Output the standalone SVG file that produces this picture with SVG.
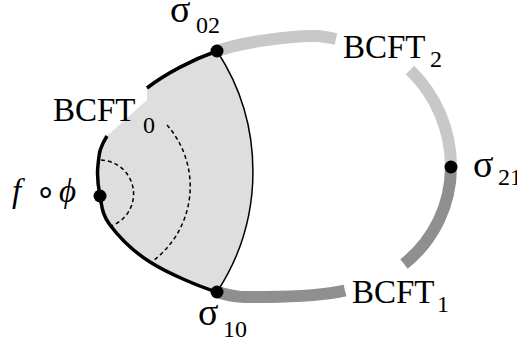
<svg xmlns="http://www.w3.org/2000/svg" width="517" height="343" viewBox="0 0 517 343">
<style>
text{font-family:'Liberation Serif','Times New Roman',serif;fill:#000}
.ring{fill:none;stroke-width:12}
.light{stroke:#c8c8c8}
.dark{stroke:#8f8f8f}
.bound{fill:none;stroke:#000;stroke-width:3.5}
.thin{fill:none;stroke:#000;stroke-width:1.5}
.dash{fill:none;stroke:#000;stroke-width:1.5;stroke-dasharray:4 3}
.dot{fill:#000}
</style>
<rect width="517" height="343" fill="#fff"/>
<g id="region">
<path fill="#dedede" d="M217,51 A220,220 0 0 1 217,292 C197.8,286.2 167.8,273.2 150,262 C132.2,250.8 118.3,236 110,225 C101.7,214 102,206 100,196 C98,186 96.8,175 98,165 C99.2,155 98.8,148.8 107,136 L147,100 L147,88 C165.3,73.8 192.7,59.5 217,51 Z"/>
<path class="thin" d="M217,51 A220,220 0 0 1 217,292"/>
<path class="dash" d="M101,160 A34,34 0 0 1 111,226"/>
<path class="dash" d="M167,125 A93,93 0 0 1 150,263"/>
</g>
<g id="connectors">
<path class="ring light" d="M217,51 C241.3,42.5 272.8,38.8 293,37 C313.2,35.2 320,35.5 336,39"/>
<path class="ring light" d="M410,70 A135,135 0 0 1 451,167"/>
<path class="ring dark" d="M451,167 A124,124 0 0 1 404,264"/>
<path class="ring dark" d="M345,290.5 C319.8,296.5 286,296.8 265,297 C244,297.2 236.2,297.8 217,292"/>
<path class="bound" d="M217,292 C197.8,286.2 167.8,273.2 150,262 C132.2,250.8 118.3,236 110,225 C101.7,214 102,206 100,196 C98,186 96.8,175 98,165 C99.2,155 98.8,148.8 107,136"/>
<path class="bound" d="M147,88 C165.3,73.8 192.7,59.5 217,51"/>
</g>
<g id="sigma02">
<circle class="dot" cx="217" cy="51" r="6.5"/>
<text x="170" y="22" font-size="38">σ</text>
<text x="196" y="33" font-size="24">02</text>
</g>
<g id="sigma10">
<circle class="dot" cx="217" cy="292" r="6.5"/>
<text x="198" y="325" font-size="38">σ</text>
<text x="223" y="337" font-size="24">10</text>
</g>
<g id="sigma21">
<circle class="dot" cx="451" cy="167" r="6.5"/>
<text x="473" y="177" font-size="38">σ</text>
<text x="498" y="185" font-size="24">21</text>
</g>
<g id="fphi">
<circle class="dot" cx="100" cy="196" r="6.5"/>
<text x="12" y="202" font-size="33" font-style="italic">f</text>
<text x="35" y="203" font-size="34">∘</text>
<text x="59" y="202" font-size="33" font-style="italic">ϕ</text>
</g>
<g id="bcft0">
<text x="53" y="121" font-size="33">BCFT</text>
<text x="143" y="133" font-size="24">0</text>
</g>
<g id="bcft2">
<text x="343" y="58" font-size="33">BCFT</text>
<text x="430" y="67" font-size="24">2</text>
</g>
<g id="bcft1">
<text x="352" y="303" font-size="33">BCFT</text>
<text x="437" y="312" font-size="24">1</text>
</g>
</svg>
